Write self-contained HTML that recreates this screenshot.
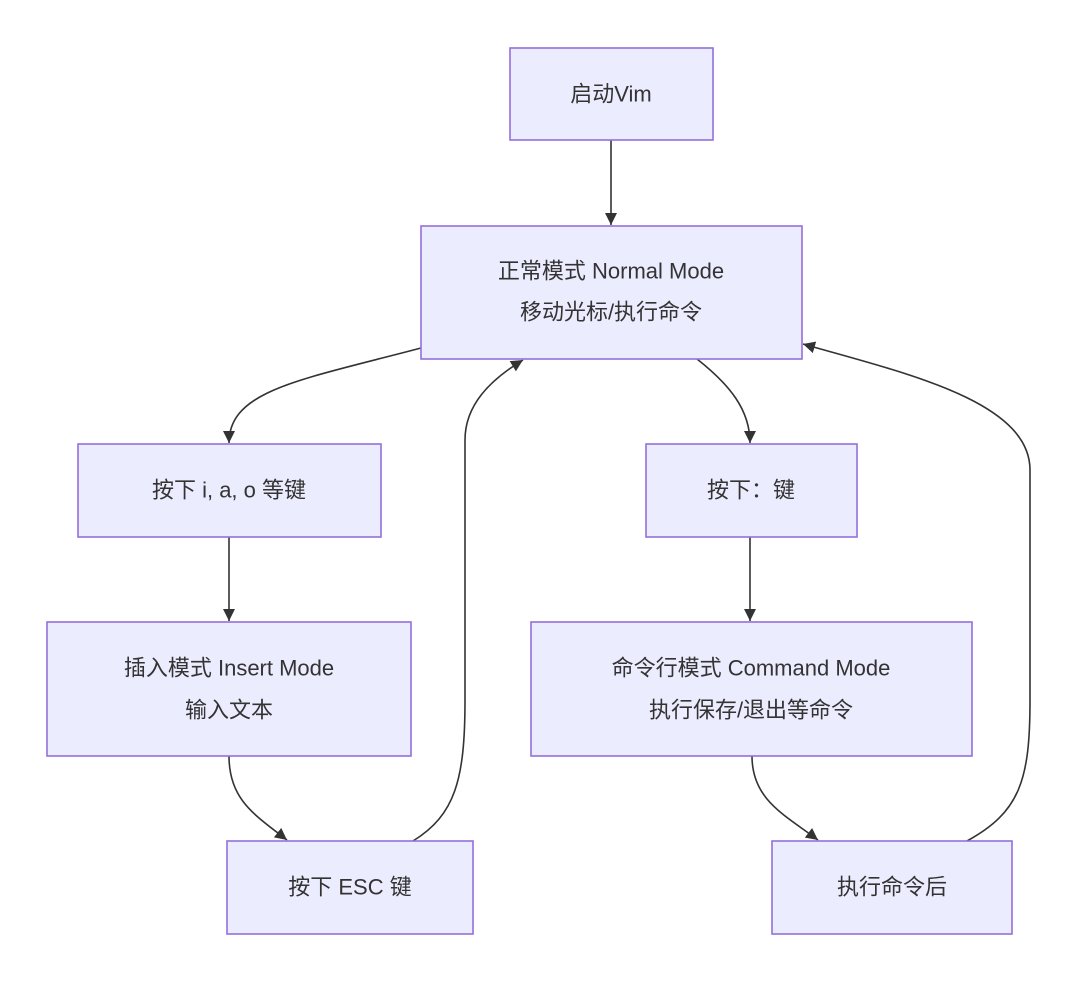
<!DOCTYPE html>
<html><head><meta charset="utf-8"><style>
body{margin:0;background:#fff;}
svg text{font-family:"Liberation Sans","Noto Sans CJK SC",sans-serif;font-size:22px;fill:#333;text-anchor:middle;dominant-baseline:central;}
</style></head><body>
<svg width="1080" height="982" viewBox="0 0 1080 982" xmlns="http://www.w3.org/2000/svg">
<defs><marker id="a" markerWidth="12" markerHeight="12" refX="10" refY="5" orient="auto" markerUnits="userSpaceOnUse" viewBox="0 0 10 10"><path d="M0,0L10,5L0,10z" fill="#333"/></marker></defs>
<g fill="none" stroke="#333" stroke-width="1.6" marker-end="url(#a)">
<path d="M611,140L611,225"/>
<path d="M421,348C300,380 229,390 229,443"/>
<path d="M697,359C730,385 750,410 750,443"/>
<path d="M229,537L229,621"/>
<path d="M750,537L750,621"/>
<path d="M229,756C229,800 255,815 287,840"/>
<path d="M413,841C455,815 465,780 465,700L465,440C465,405 490,380 523,360"/>
<path d="M752,756C752,800 785,815 818,840"/>
<path d="M967,841C1020,812 1030,780 1030,700L1030,470C1030,400 900,372 803,344"/>
</g>
<g fill="#ECECFF" stroke="#9370DB" stroke-width="1.6">
<rect x="510" y="48" width="203" height="92"/>
<rect x="421" y="226" width="381" height="133"/>
<rect x="78" y="444" width="303" height="93"/>
<rect x="646" y="444" width="211" height="93"/>
<rect x="47" y="622" width="364" height="134"/>
<rect x="531" y="622" width="441" height="134"/>
<rect x="227" y="841" width="246" height="93"/>
<rect x="772" y="841" width="240" height="93"/>
</g>
<text x="611" y="94">启动Vim</text>
<text x="611" y="271">正常模式 Normal Mode</text>
<text x="611" y="312">移动光标/执行命令</text>
<text x="229" y="490">按下 i, a, o 等键</text>
<text x="751" y="490">按下：键</text>
<text x="229" y="668">插入模式 Insert Mode</text>
<text x="229" y="710">输入文本</text>
<text x="751" y="668">命令行模式 Command Mode</text>
<text x="751" y="710">执行保存/退出等命令</text>
<text x="350" y="887">按下 ESC 键</text>
<text x="892" y="887">执行命令后</text>
</svg>
</body></html>
